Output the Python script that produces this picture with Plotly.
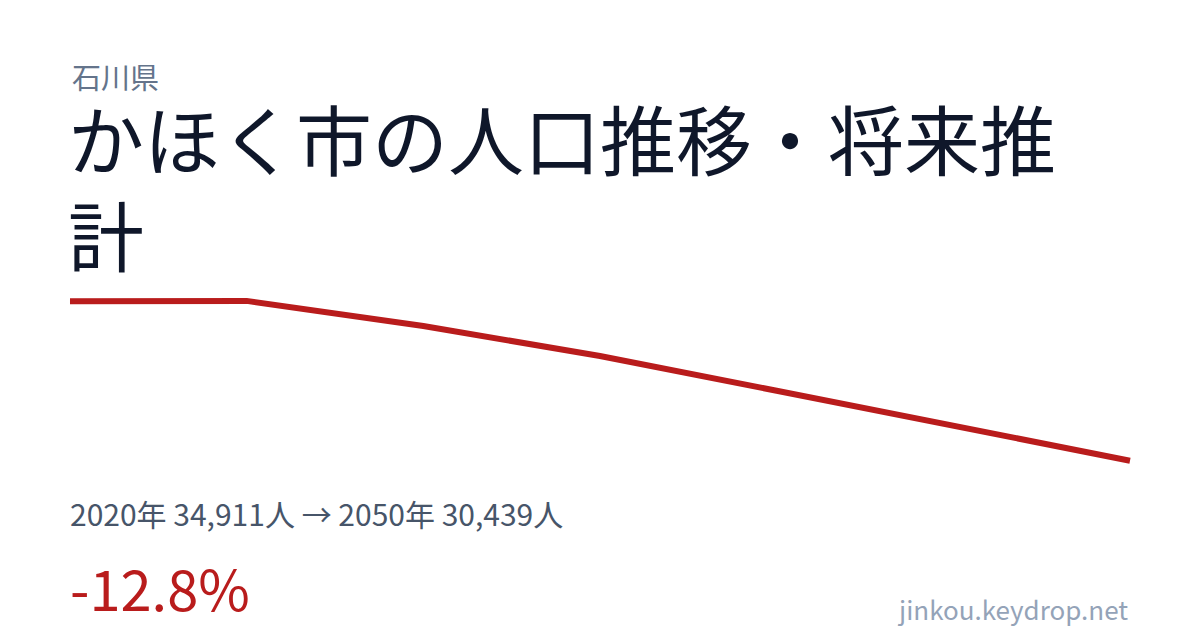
import plotly.graph_objects as go

years = [2020, 2025, 2030, 2035, 2040, 2045, 2050]
population = [34911, 34920, 34216, 33374, 32401, 31417, 30439]

prefecture = "石川県"
title_line1 = "かほく市の人口推移・将来推"
title_line2 = "計"
summary = "2020年 34,911人 → 2050年 30,439人"
change = "-12.8%"
source = "jinkou.keydrop.net"

# The page body has an 8px margin; size the figure so it fills the window.
OFF = 8
W, H = 1200 - OFF, 630 - OFF
FONT = "Noto Sans CJK JP"

def px_x(p):  # window pixel -> paper x
    return (p - OFF) / W

def px_y(p):  # window pixel -> paper y
    return 1 - (p - OFF) / H

fig = go.Figure()
fig.add_trace(go.Scatter(
    x=years, y=population, mode="lines",
    line=dict(color="#b91c1c", width=6),
    hoverinfo="skip", showlegend=False,
))

# window px: 2020 at x=70, 2050 at x=1130
ppx = (1130 - 70) / (2050 - 2020)
x0 = 2020 - (70 - OFF) / ppx
x1 = 2050 + (1200 - 1130) / ppx
# window px: 34911 at y=301.2, 30439 at y=460.7
ppy = (34911 - 30439) / (460.7 - 301.2)
y_top = 34911 + (301.2 - OFF) * ppy
y_bot = 30439 - (630 - 460.7) * ppy

fig.update_layout(
    width=W, height=H,
    margin=dict(l=0, r=0, t=0, b=0),
    paper_bgcolor="white", plot_bgcolor="white",
    xaxis=dict(range=[x0, x1], domain=[0, 1], visible=False, fixedrange=True),
    yaxis=dict(range=[y_bot, y_top], domain=[0, 1], visible=False, fixedrange=True),
    font=dict(family=FONT),
    annotations=[
        dict(text=prefecture, x=px_x(70), y=px_y(53), xref="paper", yref="paper",
             xanchor="left", yanchor="top", showarrow=False,
             font=dict(family=FONT, size=29, color="#64748b")),
        dict(text=title_line1, x=px_x(66), y=px_y(80), xref="paper", yref="paper",
             xanchor="left", yanchor="top", showarrow=False,
             font=dict(family=FONT, size=76, color="#0f172a")),
        dict(text=title_line2, x=px_x(66), y=px_y(176), xref="paper", yref="paper",
             xanchor="left", yanchor="top", showarrow=False,
             font=dict(family=FONT, size=76, color="#0f172a")),
        dict(text=summary, x=px_x(68), y=px_y(489), xref="paper", yref="paper",
             xanchor="left", yanchor="top", showarrow=False,
             font=dict(family=FONT, size=30, color="#475569")),
        dict(text=change, x=px_x(68), y=px_y(544), xref="paper", yref="paper",
             xanchor="left", yanchor="top", showarrow=False,
             font=dict(family=FONT, size=56, color="#b91c1c")),
        dict(text=source, x=px_x(1130), y=px_y(588), xref="paper", yref="paper",
             xanchor="right", yanchor="top", showarrow=False,
             font=dict(family=FONT, size=26, color="#94a3b8")),
    ],
)

fig.write_html("out.html", config={"displayModeBar": False, "staticPlot": True})
